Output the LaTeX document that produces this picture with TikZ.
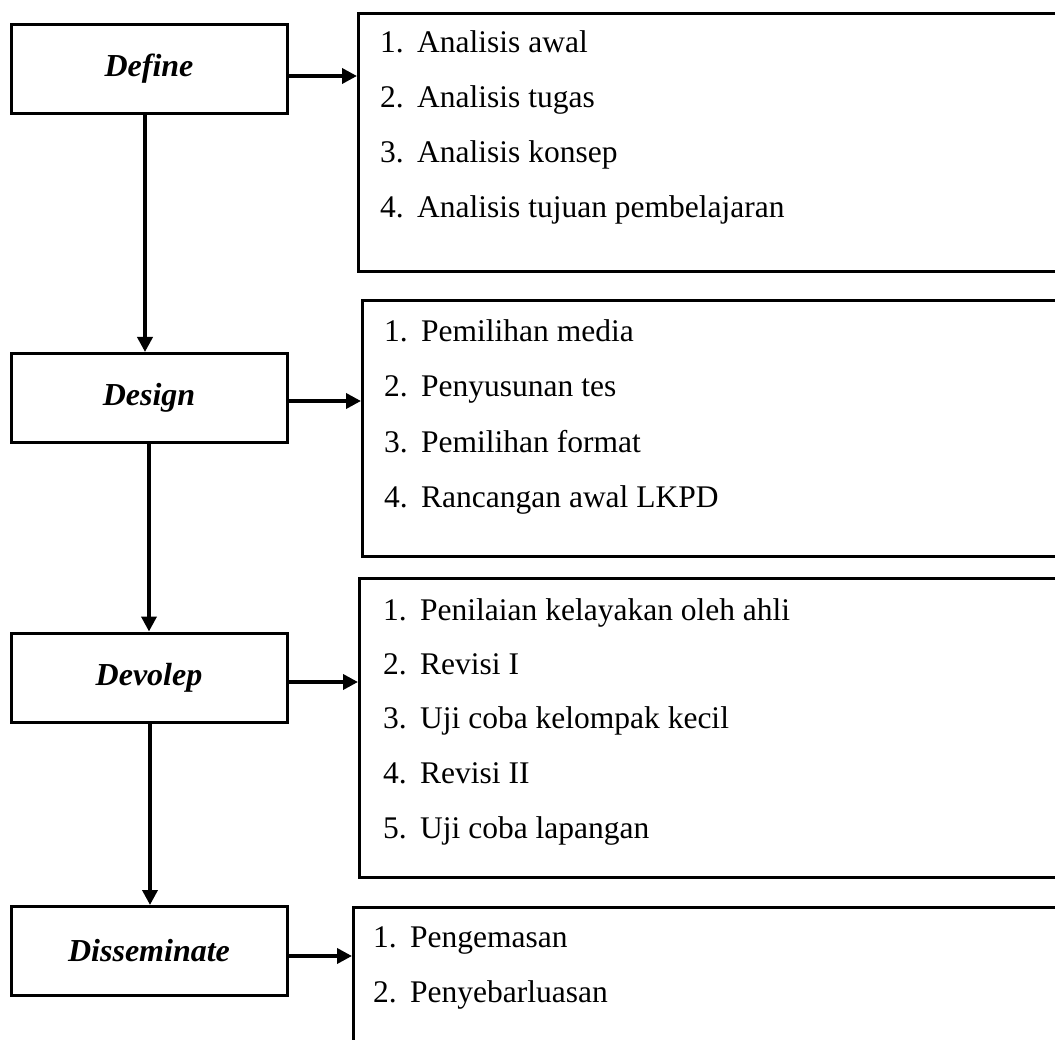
\documentclass[tikz,border=0pt]{standalone}
\usepackage{fontspec}
\setmainfont{Liberation Serif}
\usetikzlibrary{arrows.meta}
\newcommand\itm[2]{\makebox[37pt][l]{#1}#2}
\begin{document}
\begin{tikzpicture}[x=1pt,y=-1pt,
 phase/.style={draw,line width=3pt,minimum width=276pt,minimum height=89pt,inner sep=0pt,font=\fontsize{32}{38}\selectfont\bfseries\itshape},
 listbox/.style={draw,line width=2.6pt,anchor=north west,inner sep=0pt},
 item/.style={anchor=base west,inner sep=0pt,font=\fontsize{31.5}{38}\selectfont},
 arr/.style={line width=3.6pt,-{Triangle[length=15pt,width=15pt]}}]
\useasboundingbox (0,0) rectangle (1055,1040);
% phase boxes
\node[phase] (define) at (149,69) {Define};
\node[phase] (design) at (149,398) {Design};
\node[phase] (devolep) at (149,677.5) {Devolep};
\node[phase] (dissem) at (149,951) {Disseminate};
% list boxes
\node[listbox,minimum width=720pt,minimum height=258pt] (b1) at (357,12) {};
\node[listbox,minimum width=720pt,minimum height=256pt] (b2) at (361,299) {};
\node[listbox,minimum width=720pt,minimum height=299pt] (b3) at (358,577) {};
\node[listbox,minimum width=720pt,minimum height=160pt] (b4) at (352,906) {};
% items
\node[item] (a1) at (380,53) {\itm{1.}{Analisis awal}};
\node[item] (a2) at (380,108) {\itm{2.}{Analisis tugas}};
\node[item] (a3) at (380,163) {\itm{3.}{Analisis konsep}};
\node[item] (a4) at (380,218) {\itm{4.}{Analisis tujuan pembelajaran}};
\node[item] (c1) at (384,342) {\itm{1.}{Pemilihan media}};
\node[item] (c2) at (384,397) {\itm{2.}{Penyusunan tes}};
\node[item] (c3) at (384,452) {\itm{3.}{Pemilihan format}};
\node[item] (c4) at (384,507) {\itm{4.}{Rancangan awal LKPD}};
\node[item] (d1) at (383,620) {\itm{1.}{Penilaian kelayakan oleh ahli}};
\node[item] (d2) at (383,674) {\itm{2.}{Revisi I}};
\node[item] (d3) at (383,728) {\itm{3.}{Uji coba kelompak kecil}};
\node[item] (d4) at (383,783) {\itm{4.}{Revisi II}};
\node[item] (d5) at (383,838) {\itm{5.}{Uji coba lapangan}};
\node[item] (e1) at (373,947) {\itm{1.}{Pengemasan}};
\node[item] (e2) at (373,1002) {\itm{2.}{Penyebarluasan}};
% connectors
\draw[arr] ([yshift=-7pt]define.east) -- ([yshift=-7pt]define.east -| b1.west);
\draw[arr] ([yshift=-3pt]design.east) -- ([yshift=-3pt]design.east -| b2.west);
\draw[arr] ([yshift=-4.5pt]devolep.east) -- ([yshift=-4.5pt]devolep.east -| b3.west);
\draw[arr] ([yshift=-5pt]dissem.east) -- ([yshift=-5pt]dissem.east -| b4.west);
\draw[arr] ([xshift=-4pt]define.south) -- ([xshift=-4pt]design.north);
\draw[arr] (design.south) -- (devolep.north);
\draw[arr] ([xshift=1pt]devolep.south) -- ([xshift=1pt]dissem.north);
\end{tikzpicture}
\end{document}
